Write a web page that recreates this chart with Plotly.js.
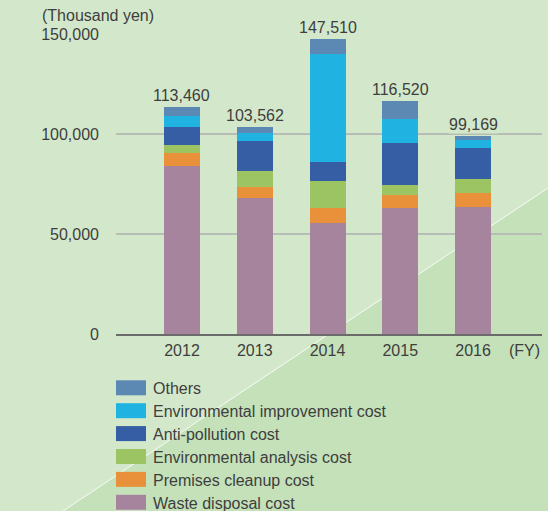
<!DOCTYPE html>
<html><head><meta charset="utf-8">
<script src="https://cdn.plot.ly/plotly-3.0.1.min.js"></script>
<style>html,body{margin:0;padding:0;background:#d3e8cb;overflow:hidden;}</style>
</head><body><div id="chart" style="width:548px;height:511px;"></div>
<script>
const years = ['2012', '2013', '2014', '2015', '2016'];
const wasteDisposal = [84000, 68000, 55500, 63000, 63500];
const premisesCleanup = [6500, 5500, 7500, 6500, 7000];
const envAnalysis = [4000, 8000, 13500, 5000, 7000];
const antiPollution = [9000, 15000, 9500, 21000, 15500];
const envImprovement = [5500, 4000, 54000, 12000, 4000];
const others = [4460, 3062, 7510, 9020, 2169];
const totals = [113460, 103562, 147510, 116520, 99169];
const seriesNames = ['Waste disposal cost', 'Premises cleanup cost', 'Environmental analysis cost',
  'Anti-pollution cost', 'Environmental improvement cost', 'Others'];
const seriesColors = ['#a6849e', '#e8913a', '#9cc462', '#355ea4', '#20b2e0', '#5b89b4'];
const yTicks = [0, 50000, 100000, 150000];

const seriesValues = [wasteDisposal, premisesCleanup, envAnalysis, antiPollution, envImprovement, others];
const traces = seriesValues.map((vals, i) => ({
  type: 'bar', x: years, y: vals, name: seriesNames[i],
  marker: {color: seriesColors[i], line: {width: 0}},
  width: 0.495, hoverinfo: 'name+y'
}));

const textColor = '#3e3e3e';
const font = {family: 'Liberation Sans, Arial, sans-serif', size: 16, color: textColor};

// total labels above each stacked bar (category index on the category axis)
const annotations = years.map((yr, i) => ({
  x: i, y: totals[i], xref: 'x', yref: 'y', text: totals[i].toLocaleString('en-US'),
  showarrow: false, yanchor: 'bottom', yshift: 2, font: font,
  bgcolor: '#d3e8cb', borderpad: 0
}));
annotations.push({xref: 'paper', yref: 'paper', x: -0.178, y: 1.027, xanchor: 'left', yanchor: 'bottom',
  text: '(Thousand yen)', showarrow: false, font: font});
annotations.push({xref: 'paper', yref: 'paper', x: 0.918, y: -0.02, xanchor: 'left', yanchor: 'top',
  text: '(FY)', showarrow: false, font: font});

// background diagonal band (pixel geometry converted to paper coords)
const shapes = [
  {type: 'path', xref: 'paper', yref: 'paper', layer: 'below',
   path: 'M1.0423,0.5133 L1.0423,-0.62 L-0.1561,-0.62 Z',
   fillcolor: '#c4e1b9', line: {width: 0}},
  {type: 'line', xref: 'paper', yref: 'paper', layer: 'below',
   x0: 1.0423, y0: 0.5133, x1: -0.1561, y1: -0.62,
   line: {color: 'rgba(255,255,255,0.85)', width: 1}}
];

const layout = {
  width: 548, height: 511,
  margin: {l: 116, r: 6, t: 34, b: 177, pad: 0, autoexpand: false},
  paper_bgcolor: '#d3e8cb', plot_bgcolor: 'rgba(0,0,0,0)',
  barmode: 'stack', bargap: 0.5,
  font: font,
  showlegend: true,
  legend: {x: -0.007, xanchor: 'left', y: -0.123, yanchor: 'top', traceorder: 'reversed',
    bgcolor: 'rgba(0,0,0,0)', font: font, itemclick: false, itemdoubleclick: false},
  xaxis: {type: 'category', range: [-0.907, 4.948], showgrid: false, zeroline: false,
    showline: true, linecolor: '#6b6b6b', linewidth: 1.5, ticks: '', tickfont: font,
    ticklabelstandoff: 1, fixedrange: true},
  yaxis: {range: [0, 150000], tickvals: yTicks, ticktext: yTicks.map(v => v.toLocaleString('en-US')),
    showgrid: true, gridcolor: '#b7bdb4', gridwidth: 1.5, zeroline: false, showline: false,
    ticks: '', tickfont: font, ticklabelstandoff: 16, fixedrange: true},
  annotations: annotations,
  shapes: shapes
};

Plotly.newPlot('chart', traces, layout, {displayModeBar: false, staticPlot: true}).then(gd => {
  // wider legend swatches like the reference
  gd.querySelectorAll('g.legend g.legendpoints path').forEach(p => {
    p.setAttribute('d', 'M13,7.5H-17V-7.5H13Z');
    p.style.strokeWidth = '0px';
  });
  // slightly tighter legend row spacing
  const items = Array.from(gd.querySelectorAll('g.legend g.traces'));
  const parse = t => { const m = /translate\(\s*([-\d.]+)[ ,]+([-\d.]+)/.exec(t || ''); return m ? [+m[1], +m[2]] : null; };
  const pos = items.map(g => parse(g.getAttribute('transform')));
  if (pos.length && pos.every(p => p)) {
    const y0 = Math.min(...pos.map(p => p[1]));
    items.forEach((g, k) => {
      const [x, y] = pos[k];
      g.setAttribute('transform', 'translate(' + x + ',' + (y0 + (y - y0) * 0.962) + ')');
    });
  }
});
</script></body></html>
